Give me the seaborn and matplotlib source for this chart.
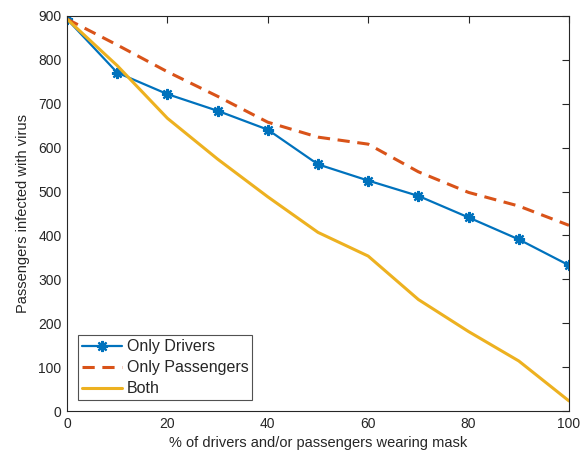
import numpy as np
import pandas as pd
import matplotlib
matplotlib.use('Agg')
import matplotlib.pyplot as plt
import seaborn as sns

# % of drivers and/or passengers wearing mask
mask_pct = [0, 10, 20, 30, 40, 50, 60, 70, 80, 90, 100]
only_drivers = [893, 771, 722, 684, 641, 562, 525, 490, 441, 391, 332]
only_passengers = [893, 834, 773, 717, 658, 624, 608, 545, 498, 467, 423]
both = [893, 787, 667, 574, 488, 407, 353, 254, 181, 114, 23]

series_names = ['Only Drivers', 'Only Passengers', 'Both']
colors = ['#0072BD', '#D95319', '#EDB120']

sns.set_style('white')
plt.rcParams['font.family'] = ['Liberation Sans', 'DejaVu Sans']

fig = plt.figure(figsize=(5.81, 4.53), dpi=100)
ax = fig.add_axes([0.1153, 0.0927, 0.8640, 0.8720])

sns.lineplot(x=mask_pct, y=only_drivers, ax=ax, color=colors[0], lw=1.6,
             marker=(8, 2, 0), markersize=8, markeredgewidth=1.6,
             markeredgecolor=colors[0], label=series_names[0])
sns.lineplot(x=mask_pct, y=only_passengers, ax=ax, color=colors[1], lw=2.2,
             label=series_names[1])
ax.lines[-1].set_dashes([4, 2.5])
sns.lineplot(x=mask_pct, y=both, ax=ax, color=colors[2], lw=2.2,
             label=series_names[2])

ax.set_xlim(0, 100)
ax.set_ylim(0, 900)
ax.set_xticks(range(0, 101, 20))
ax.set_yticks(range(0, 901, 100))
ax.tick_params(direction='in', length=5, width=0.8, top=True, right=True,
               labelsize=10, colors='#262626', pad=4)
for s in ax.spines.values():
    s.set_color('#262626')
    s.set_linewidth(0.8)
ax.set_xlabel('% of drivers and/or passengers wearing mask', fontsize=10.5, color='#262626')
ax.set_ylabel('Passengers infected with virus', fontsize=10.5, color='#262626', labelpad=6)

leg = ax.legend(loc='lower left', bbox_to_anchor=(0.022, 0.027), fontsize=11.5,
                frameon=True, fancybox=False, edgecolor='#262626',
                handlelength=2.5, handletextpad=0.3, borderpad=0.25,
                labelspacing=0.38, borderaxespad=0)
leg.get_frame().set_linewidth(0.8)

fig.savefig('out.png', dpi=100)
